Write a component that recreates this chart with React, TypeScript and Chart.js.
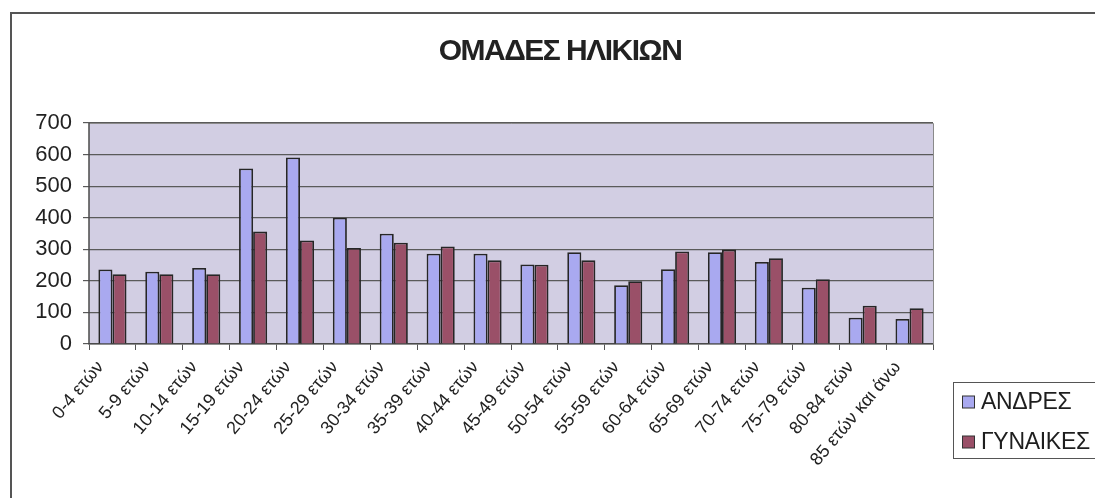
import React, { useEffect, useRef } from "react";
import { Chart, registerables } from "chart.js";

Chart.register(...registerables);

const categories = [
  "0-4 ετών", "5-9 ετών", "10-14 ετών", "15-19 ετών", "20-24 ετών", "25-29 ετών",
  "30-34 ετών", "35-39 ετών", "40-44 ετών", "45-49 ετών", "50-54 ετών", "55-59 ετών",
  "60-64 ετών", "65-69 ετών", "70-74 ετών", "75-79 ετών", "80-84 ετών", "85 ετών και άνω",
];
const andres = [236, 229, 241, 556, 591, 400, 349, 286, 286, 252, 291, 186, 237, 291, 260, 178, 83, 79];
const gynaikes = [221, 221, 221, 356, 328, 304, 321, 309, 265, 251, 265, 199, 293, 299, 272, 205, 121, 113];
const seriesNames = ["ΑΝΔΡΕΣ", "ΓΥΝΑΙΚΕΣ"];
const seriesColors = ["#a9a9f0", "#9a5068"];
const titleText = "ΟΜΑΔΕΣ ΗΛΙΚΙΩΝ";
const yMax = 700;
const yStep = 100;

const FONT = "'Liberation Sans', Arial, sans-serif";

const decorPlugin = {
  id: "decor",
  beforeDraw(chart: any) {
    const ctx = chart.ctx;
    const { left, right, top, bottom } = chart.chartArea;
    ctx.save();
    ctx.fillStyle = "#ffffff";
    ctx.fillRect(0, 0, chart.width, chart.height);
    // outer frame
    ctx.strokeStyle = "#555555";
    ctx.lineWidth = 2;
    ctx.beginPath();
    ctx.moveTo(11, chart.height + 5);
    ctx.lineTo(11, 13);
    ctx.lineTo(chart.width + 5, 13);
    ctx.stroke();
    // plot background
    ctx.fillStyle = "#d2cee3";
    ctx.fillRect(left, top, right - left, bottom - top);
    // title
    ctx.fillStyle = "#222222";
    ctx.font = `bold 30px ${FONT}`;
    ctx.textAlign = "center";
    ctx.textBaseline = "middle";
    try { (ctx as any).letterSpacing = "-1.5px"; } catch (e) {}
    ctx.fillText(titleText, 560, 52);
    try { (ctx as any).letterSpacing = "0px"; } catch (e) {}
    ctx.restore();
  },
  afterDraw(chart: any) {
    const ctx = chart.ctx;
    const { left, right, top, bottom } = chart.chartArea;
    ctx.save();
    // plot border (right, top)
    ctx.strokeStyle = "#8a8a8a";
    ctx.lineWidth = 1;
    ctx.beginPath();
    ctx.moveTo(left, top + 0.5);
    ctx.lineTo(right + 0.5, top + 0.5);
    ctx.lineTo(right + 0.5, bottom);
    ctx.stroke();
    // left axis line
    ctx.strokeStyle = "#4a4a4a";
    ctx.lineWidth = 1.5;
    ctx.beginPath();
    ctx.moveTo(left, top);
    ctx.lineTo(left, bottom);
    ctx.stroke();
    // legend
    const lx = 953.5, ly = 382.5, lw = 200, lh = 76;
    ctx.fillStyle = "#ffffff";
    ctx.fillRect(lx, ly, lw, lh);
    ctx.strokeStyle = "#555555";
    ctx.lineWidth = 1;
    ctx.strokeRect(lx, ly, lw, lh);
    ctx.font = `23px ${FONT}`;
    ctx.textBaseline = "middle";
    ctx.textAlign = "left";
    try { (ctx as any).letterSpacing = "-0.3px"; } catch (e) {}
    seriesNames.forEach((name, i) => {
      const cy = 402 + i * 40;
      ctx.fillStyle = seriesColors[i];
      ctx.fillRect(962.5, cy - 6, 12, 12);
      ctx.strokeStyle = "#333333";
      ctx.strokeRect(962.5, cy - 6, 12, 12);
      ctx.fillStyle = "#1e1e1e";
      ctx.fillText(name, 981, cy + 1);
    });
    try { (ctx as any).letterSpacing = "0px"; } catch (e) {}
    ctx.restore();
  },
};

export default function App() {
  const canvasRef = useRef<HTMLCanvasElement | null>(null);

  useEffect(() => {
    const canvas = canvasRef.current;
    if (!canvas) return;
    const chart = new Chart(canvas, {
      type: "bar",
      data: {
        labels: categories,
        datasets: [
          {
            label: seriesNames[0],
            data: andres,
            backgroundColor: seriesColors[0],
            borderColor: "#262626",
            borderWidth: 1.8,
          },
          {
            label: seriesNames[1],
            data: gynaikes,
            backgroundColor: seriesColors[1],
            borderColor: "#262626",
            borderWidth: 1.8,
          },
        ],
      },
      plugins: [decorPlugin],
      options: {
        responsive: false,
        animation: false,
        maintainAspectRatio: false,
        layout: { padding: { top: 123, left: 0, right: 162, bottom: 0 } },
        datasets: { bar: { categoryPercentage: 0.6, barPercentage: 1 } },
        plugins: {
          legend: { display: false },
          tooltip: { enabled: false },
          title: { display: false },
        },
        scales: {
          x: {
            offset: true,
            grid: {
              display: true,
              offset: true,
              drawOnChartArea: false,
              drawTicks: true,
              tickLength: 6,
              color: "#555555",
            },
            border: { display: true, color: "#4a4a4a", width: 1.5 },
            ticks: {
              minRotation: 50,
              maxRotation: 50,
              autoSkip: false,
              color: "#222222",
              padding: 7,
              labelOffset: -12,
              font: { family: FONT, size: 18 },
            },
            afterFit(scale: any) {
              scale.height = 154;
            },
          },
          y: {
            min: 0,
            max: yMax,
            grid: {
              color: "#5a5a5a",
              lineWidth: 1.2,
              drawTicks: true,
              tickLength: 6,
            },
            border: { display: false },
            ticks: {
              stepSize: yStep,
              color: "#222222",
              padding: 11,
              font: { family: FONT, size: 22 },
            },
            afterFit(scale: any) {
              scale.width = 89;
            },
          },
        },
      },
    });
    return () => chart.destroy();
  }, []);

  return (
    <div style={{ position: "fixed", left: 0, top: 0, width: 1095, height: 498 }}>
      <canvas ref={canvasRef} width={1095} height={498} style={{ display: "block" }} />
    </div>
  );
}
